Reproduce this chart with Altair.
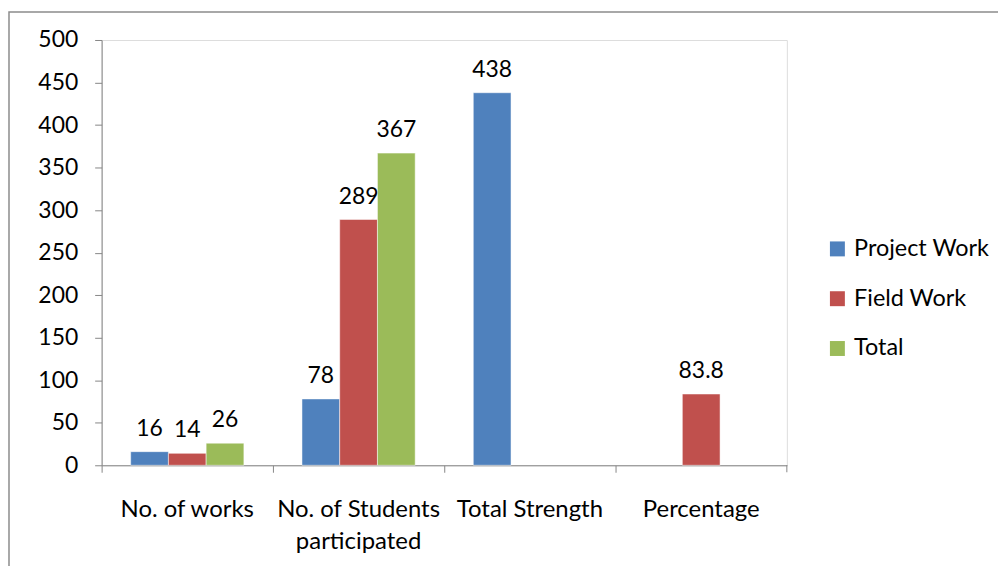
import altair as alt
import pandas as pd

categories = ["No. of works", "No. of Students participated", "Total Strength", "Percentage"]
series = ["Project Work", "Field Work", "Total"]
project_work = [16, 78, 438, None]
field_work = [14, 289, None, 83.8]
total = [26, 367, None, None]
colors = ["#4F81BD", "#C0504D", "#9BBB59"]
y_ticks = [0, 50, 100, 150, 200, 250, 300, 350, 400, 450, 500]

rows = []
for s, vals in zip(series, [project_work, field_work, total]):
    for c, v in zip(categories, vals):
        if v is not None:
            rows.append({"category": c, "series": s, "value": v})
df = pd.DataFrame(rows)

FONT = "Lato"
W, H = 688, 427
PL, PT = 94, 31

x_enc = alt.X("category:N", sort=categories,
              scale=alt.Scale(domain=categories, paddingInner=0, paddingOuter=0),
              axis=alt.Axis(title=None, bandPosition=0, labelAngle=0, tickSize=7,
                            labelPadding=25, domainColor="#868686", tickColor="#868686",
                            labelFont=FONT, labelFontSize=24, labelColor="#000000",
                            labelLineHeight=33, labelBaseline="top",
                            labelExpr="datum.label == 'No. of Students participated' ? ['No. of Students', 'participated'] : datum.label"))
xoff = alt.XOffset("series:N", sort=series,
                   scale=alt.Scale(domain=series, paddingInner=0, paddingOuter=0.77))
y_enc = alt.Y("value:Q", scale=alt.Scale(domain=[0, 500], nice=False),
              axis=alt.Axis(title=None, values=y_ticks, grid=False, tickSize=7,
                            labelPadding=17, domainColor="#868686", tickColor="#868686",
                            labelFont=FONT, labelFontSize=23, labelColor="#000000"))
color_enc = alt.Color("series:N", sort=series,
                      scale=alt.Scale(domain=series, range=colors),
                      legend=alt.Legend(title=None, orient="none", legendX=727, legendY=198,
                                        symbolType="square", symbolSize=225,
                                        symbolStrokeWidth=0, labelFont=FONT,
                                        labelFontSize=23.5, labelColor="#000000",
                                        labelOffset=5, rowPadding=25))

base = alt.Chart(df)
bars = base.mark_bar(stroke="white", strokeWidth=0.5).encode(
    x=x_enc, xOffset=xoff, y=y_enc, color=color_enc)
labels = base.mark_text(dy=-16, baseline="alphabetic", font=FONT, fontSize=23,
                        color="#000000").encode(
    x=alt.X("category:N", sort=categories), xOffset=xoff, y="value:Q",
    text=alt.Text("value:Q"))
end_tick = alt.Chart(pd.DataFrame({"a": [0]})).mark_rule(color="#868686").encode(
    x=alt.value(W), y=alt.value(H), y2=alt.value(H + 7))
border = alt.Chart(pd.DataFrame({"a": [0]})).mark_rect(
    fill=None, stroke="#8c8c8c", strokeWidth=1.5).encode(
    x=alt.value(-(PL - 1)), x2=alt.value(960), y=alt.value(-(PT - 3)), y2=alt.value(620))

chart = alt.layer(border, bars, labels, end_tick).properties(
    width=W, height=H,
    autosize=alt.AutoSizeParams(type="none"),
    padding={"left": PL, "top": PT, "right": 212, "bottom": 100},
).configure_view(stroke=None).configure(background="white")

chart.save("out.html", embed_options={"renderer": "svg", "actions": False})
